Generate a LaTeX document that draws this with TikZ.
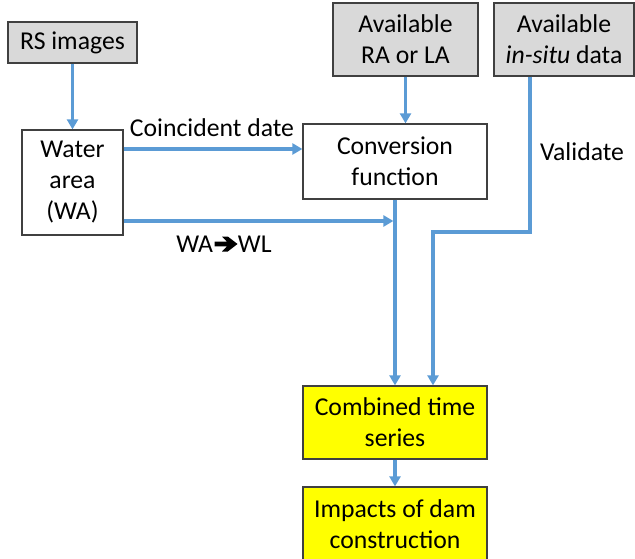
\documentclass[tikz,border=0pt]{standalone}
\usepackage{fontspec}
\setmainfont{Carlito}
\usetikzlibrary{arrows.meta}
\definecolor{flowblue}{HTML}{5B9BD5}
\definecolor{boxgray}{HTML}{D9D9D9}
\definecolor{edgegray}{HTML}{404040}
\definecolor{hiyellow}{HTML}{FFFF00}

\begin{document}
\begin{tikzpicture}[x=1pt,y=-1pt,
  every node/.style={font=\fontsize{25.7}{31}\selectfont, align=center, inner sep=0pt},
  box/.style={draw=edgegray, line width=1.3pt, fill=white},
  inbox/.style={box, fill=boxgray},
  outbox/.style={box, fill=hiyellow},
  flow/.style={draw=flowblue, line width=3.2pt, -{Triangle[width=11pt,length=10pt]}},
]
\clip (0,0) rectangle (635,559);
\useasboundingbox (0,0) rectangle (635,559);

% boxes
\node[inbox, minimum width=129pt, minimum height=41pt] (rs) at (72.5,42.5) {RS images};
\node[box, minimum width=101pt, minimum height=105pt] (wa) at (72.5,182.5) {Water\\area\\(WA)};
\node[inbox, minimum width=145pt, minimum height=73pt] (ra) at (405.5,39.5) {Available\\RA or LA};
\node[inbox, minimum width=140pt, minimum height=73pt] (situ) at (564,39.5) {Available\\\textit{in-situ} data};
\node[box, minimum width=184pt, minimum height=75pt] (conv) at (395,161.5) {Conversion\\function};
\node[outbox, minimum width=184pt, minimum height=73pt] (comb) at (395,422.5) {Combined time\\series};
\node[outbox, minimum width=184pt, minimum height=74pt] (imp) at (395,524) {Impacts of dam\\construction};

% helper rows and columns
\coordinate (cdate) at (0,149);
\coordinate (wlrow) at (0,221);
\coordinate (vcol) at (530,0);
\coordinate (bend) at (433,232);

% connectors
\draw[flow] (rs) -- (wa);
\draw[flow] (wa.east |- cdate) -- (conv.west |- cdate);
\draw[flow] (wa.east |- wlrow) -- ([xshift=-1.6pt]conv.south |- wlrow);
\draw[flow] (ra.south) -- (ra.south |- conv.north);
\draw[flow] (conv) -- (comb);
\draw[flow] (situ.south -| vcol) |- (bend) -- (bend |- comb.north);
\draw[flow] (comb) -- (imp);

% labels
\node (lcd) at (212,128) {Coincident date};
\node (lwl) at (224,244) {WA\hspace{25pt}WL};
\node (lval) at (582,152) {Validate};

% heavy arrow between WA and WL
\begin{scope}[shift={(lwl.center)}, xshift=2pt]
  \fill[black] (-11.5,-2.4) -- (1,-2.4) -- (-4,-7.5) -- (1.8,-7.5) -- (11.5,0)
    -- (1.8,7.5) -- (-4,7.5) -- (1,2.4) -- (-11.5,2.4) -- cycle;
\end{scope}
\end{tikzpicture}
\end{document}
